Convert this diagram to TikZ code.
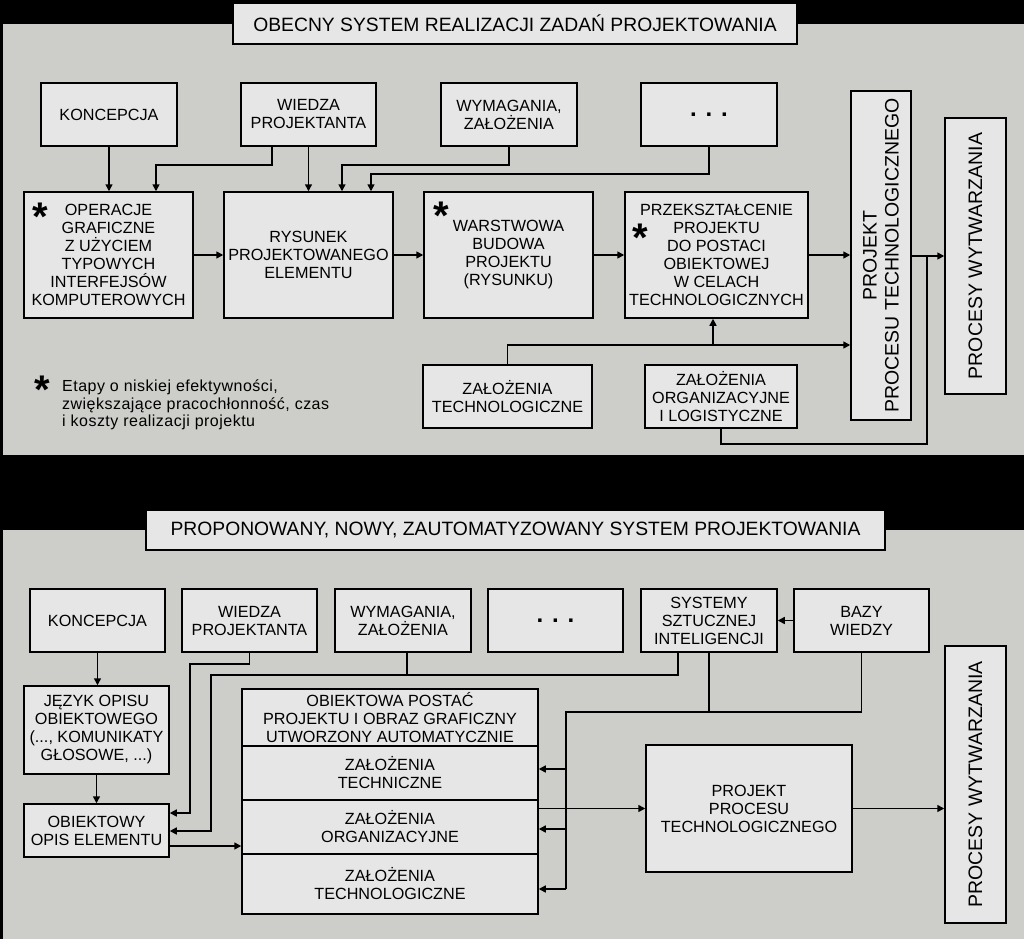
\documentclass[tikz,border=0pt]{standalone}
\usepackage{fontspec}
\setmainfont{Liberation Sans}
\newfontfamily\fnfam[LetterSpace=3]{Liberation Sans}
\usetikzlibrary{arrows.meta}
\definecolor{panel}{HTML}{CDCEC9}
\definecolor{boxfill}{HTML}{E6E6E6}
\newcommand\bx{\fontsize{16.2}{18}\selectfont}
\newcommand\ttl{\fontsize{19.3}{22}\selectfont}
\newcommand\vt{\fontsize{19.5}{22}\selectfont}
\newcommand\dotsf{\fontsize{24}{24}\selectfont\bfseries}
\newcommand\astf{\fontsize{40}{40}\selectfont\bfseries}
\newcommand\fnt{\fnfam\fontsize{16}{17.5}\selectfont}
\tikzset{
  box/.style={draw=black, fill=boxfill, line width=1.5pt, align=center, inner sep=0pt, font=\bx},
  conn/.style={line width=1.5pt},
  bus/.style={line width=2.2pt},
  arr/.style={conn, -{Triangle[length=7pt,width=7pt]}},
  star/.style={anchor=base, inner sep=0pt, font=\astf},
}
\begin{document}
\begin{tikzpicture}[x=1pt,y=-1pt]
\fill[black] (0,0) rectangle (1024,939);
\useasboundingbox (0,0) rectangle (1024,939);
\fill[panel] (3,24) rectangle (1024,455);
\fill[panel] (3,530) rectangle (1024,939);

% ---------- top panel ----------
\node[box, font=\ttl, minimum width=564pt, minimum height=41pt] (t1) at (515,23.5) {OBECNY SYSTEM REALIZACJI ZADAŃ PROJEKTOWANIA};

\node[box, minimum width=136pt, minimum height=63pt] (k1) at (109,114.5) {KONCEPCJA};
\node[box, minimum width=135pt, minimum height=63pt] (w1) at (308.5,114.5) {WIEDZA\\PROJEKTANTA};
\node[box, minimum width=136pt, minimum height=63pt] (y1) at (509,114.5) {WYMAGANIA,\\ZAŁOŻENIA};
\node[box, minimum width=136pt, minimum height=63pt, font=\dotsf] (d1) at (709,114.5) {. . .};

\node[box, minimum width=169pt, minimum height=126pt] (o1) at (108.5,255) {OPERACJE\\GRAFICZNE\\Z UŻYCIEM\\TYPOWYCH\\INTERFEJSÓW\\KOMPUTEROWYCH};
\node[box, minimum width=169pt, minimum height=126pt] (r1) at (308.5,255) {RYSUNEK\\PROJEKTOWANEGO\\ELEMENTU};
\node[box, minimum width=169pt, minimum height=126pt] (ws1) at (508.5,255) {WARSTWOWA\\BUDOWA\\PROJEKTU\\(RYSUNKU)};
\node[box, minimum width=183pt, minimum height=126pt] (p1) at (716.5,255) {PRZEKSZTAŁCENIE\\PROJEKTU\\DO POSTACI\\OBIEKTOWEJ\\W CELACH\\TECHNOLOGICZNYCH};

\node[box, minimum width=60pt, minimum height=329pt] (pt1) at (881,255.5) {};
\node[rotate=90, align=center, font=\vt, inner sep=0pt] (pt1t) at (pt1.center) {PROJEKT\\PROCESU TECHNOLOGICZNEGO};
\node[box, minimum width=61pt, minimum height=276pt] (pw1) at (975.5,256) {};
\node[rotate=90, font=\vt, inner sep=0pt] (pw1t) at (pw1.center) {PROCESY WYTWARZANIA};

\node[box, minimum width=169pt, minimum height=63pt] (zt1) at (507.5,396.5) {ZAŁOŻENIA\\TECHNOLOGICZNE};
\node[box, minimum width=152pt, minimum height=63pt] (zo1) at (721,396.5) {ZAŁOŻENIA\\ORGANIZACYJNE\\I LOGISTYCZNE};

\node[star] (s1) at (40,230) {*};
\node[star] (s2a) at (441,229) {*};
\node[star] (s3) at (640.5,251.5) {*};
\node[star] (s4) at (42.5,403) {*};
\node[anchor=north west, align=left, inner sep=0pt, font=\fnt] (fn) at (62,380) {Etapy o niskiej efektywności,\\zwiększające pracochłonność, czas\\i koszty realizacji projektu};

\draw[arr] (k1.south) -- (k1.south |- o1.north);
\draw[arr] ([xshift=-36.5pt]w1.south) -- ++(0,18) -| ([xshift=47.5pt]o1.north);
\draw[arr] (w1.south) -- (r1.north);
\draw[arr] (y1.south) -- ++(0,18) -| ([xshift=33.5pt]r1.north);
\draw[arr] (d1.south) -- ++(0,27) -| ([xshift=62.5pt]r1.north);
\draw[arr] (o1.east) -- (r1.west);
\draw[arr] (r1.east) -- (ws1.west);
\draw[arr] (ws1.east) -- (p1.west);
\draw[arr] (p1.east) -- (p1.east -| pt1.west);
\draw[arr] (pt1.east |- pw1.west) -- (pw1.west);
\coordinate (j1) at (713,345);
\draw[conn] (zt1.north) |- (j1);
\draw[arr] (j1) -- (pt1.west |- j1);
\draw[arr] (j1) -- (j1 |- p1.south);
\coordinate (j2) at (927,256);
\draw[conn] (zo1.south) -- ++(0,15) -| (j2);

% ---------- bottom panel ----------
\node[box, font=\ttl, minimum width=739pt, minimum height=40pt] (t2) at (515.5,530) {PROPONOWANY, NOWY, ZAUTOMATYZOWANY SYSTEM PROJEKTOWANIA};

\node[box, minimum width=135pt, minimum height=63pt] (k2) at (97.5,620.5) {KONCEPCJA};
\node[box, minimum width=135pt, minimum height=63pt] (w2) at (249.5,620.5) {WIEDZA\\PROJEKTANTA};
\node[box, minimum width=136pt, minimum height=63pt] (y2) at (403,620.5) {WYMAGANIA,\\ZAŁOŻENIA};
\node[box, minimum width=135pt, minimum height=63pt, font=\dotsf] (d2) at (555.5,620.5) {. . .};
\node[box, minimum width=136pt, minimum height=63pt] (sy2) at (709,620.5) {SYSTEMY\\SZTUCZNEJ\\INTELIGENCJI};
\node[box, minimum width=135pt, minimum height=63pt] (b2) at (861.5,620.5) {BAZY\\WIEDZY};

\node[box, minimum width=61pt, minimum height=277pt] (pw2) at (975.5,784.5) {};
\node[rotate=90, font=\vt, inner sep=0pt] (pw2t) at (pw2.center) {PROCESY WYTWARZANIA};

\node[box, minimum width=145pt, minimum height=88pt] (jz) at (96.5,730) {JĘZYK OPISU\\OBIEKTOWEGO\\(..., KOMUNIKATY\\GŁOSOWE, ...)};
\node[box, minimum width=145pt, minimum height=53pt] (ob) at (96.5,830.5) {OBIEKTOWY\\OPIS ELEMENTU};

\node[box, minimum width=296pt, minimum height=57pt] (st1) at (390,717.5) {OBIEKTOWA POSTAĆ\\PROJEKTU I OBRAZ GRAFICZNY\\UTWORZONY AUTOMATYCZNIE};
\node[box, minimum width=296pt, minimum height=54pt] (st2) at (390,773) {ZAŁOŻENIA\\TECHNICZNE};
\node[box, minimum width=296pt, minimum height=54pt] (st3) at (390,827) {ZAŁOŻENIA\\ORGANIZACYJNE};
\node[box, minimum width=296pt, minimum height=60pt] (st4) at (390,884) {ZAŁOŻENIA\\TECHNOLOGICZNE};

\node[box, minimum width=206pt, minimum height=127pt] (pp2) at (749,808.5) {PROJEKT\\PROCESU\\TECHNOLOGICZNEGO};

\draw[arr] (k2.south) -- (k2.south |- jz.north);
\draw[arr] (jz.south) -- (ob.north);
\coordinate (c1) at (190,813);
\draw[arr] (w2.south) -- ++(0,11) -| (c1) -- (c1 -| ob.east);
\coordinate (c2) at (211,831);
\draw[arr] ([xshift=-31pt]sy2.south) -- ++(0,22) -| (c2) -- (c2 -| ob.east);
\draw[conn] ([xshift=4pt]y2.south) -- ++(0,23);
\coordinate (c3) at (566,712);
\coordinate (a1) at (566,769);
\coordinate (a2) at (566,829);
\coordinate (a3) at (566,889);
\draw[conn] (b2.south) |- (sy2.south |- c3);
\draw[bus] (sy2.south) |- (c3) -- (a3);
\draw[arr] (a1) -- (a1 -| st2.east);
\draw[arr] (a2) -- (a2 -| st3.east);
\draw[arr] (a3) -- (a3 -| st4.east);
\coordinate (c5) at ([yshift=-15.5pt]ob.east);
\draw[arr] (c5) -- (c5 -| st3.west);
\draw[arr] (pp2.west -| st3.east) -- (pp2.west);
\draw[arr] (pp2.east) -- (pp2.east -| pw2.west);
\draw[arr] (b2.west) -- (sy2.east);
\end{tikzpicture}
\end{document}
